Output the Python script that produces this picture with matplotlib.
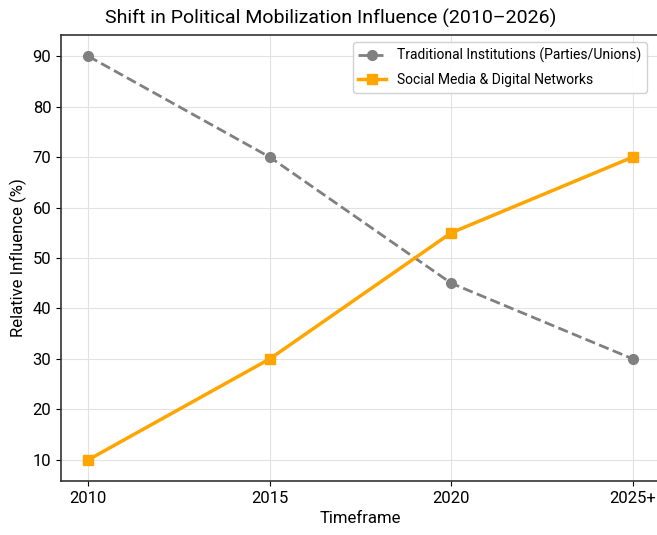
import matplotlib
matplotlib.use("Agg")
import matplotlib.pyplot as plt

timeframes = ["2010", "2015", "2020", "2025+"]
traditional = [90, 70, 45, 30]
social_media = [10, 30, 55, 70]

plt.rcParams["font.family"] = ["Roboto", "DejaVu Sans"]

fig = plt.figure(figsize=(6.57, 5.35), dpi=100)
ax = fig.add_axes([61 / 657, 1 - 481 / 535, 599 / 657, 446 / 535])

x = range(len(timeframes))
ax.plot(x, traditional, color="#808080", linestyle="--", linewidth=2,
        marker="o", markersize=7, label="Traditional Institutions (Parties/Unions)")
ax.plot(x, social_media, color="#FFA500", linestyle="-", linewidth=2.5,
        marker="s", markersize=7, label="Social Media & Digital Networks")

ax.set_xticks(list(x))
ax.set_xticklabels(timeframes)
ax.set_xlim(-0.15, 3.15)
ax.set_ylim(5.8, 94.2)
ax.set_yticks([10, 20, 30, 40, 50, 60, 70, 80, 90])
ax.tick_params(labelsize=12)
ax.grid(True, color="#e2e2e2", linewidth=0.8)
ax.set_axisbelow(True)
for s in ax.spines.values():
    s.set_linewidth(1.2)
    s.set_color("#333333")

ax.set_xlabel("Timeframe", fontsize=12)
ax.set_ylabel("Relative Influence (%)", fontsize=12)
ax.set_title("Shift in Political Mobilization Influence (2010\u20132026)",
             fontsize=14, pad=8, x=0.45)
ax.legend(loc="upper right", fontsize=10, framealpha=0.9, labelspacing=0.75,
          bbox_to_anchor=(0.99, 1.0))

fig.savefig("out.png", dpi=100)
